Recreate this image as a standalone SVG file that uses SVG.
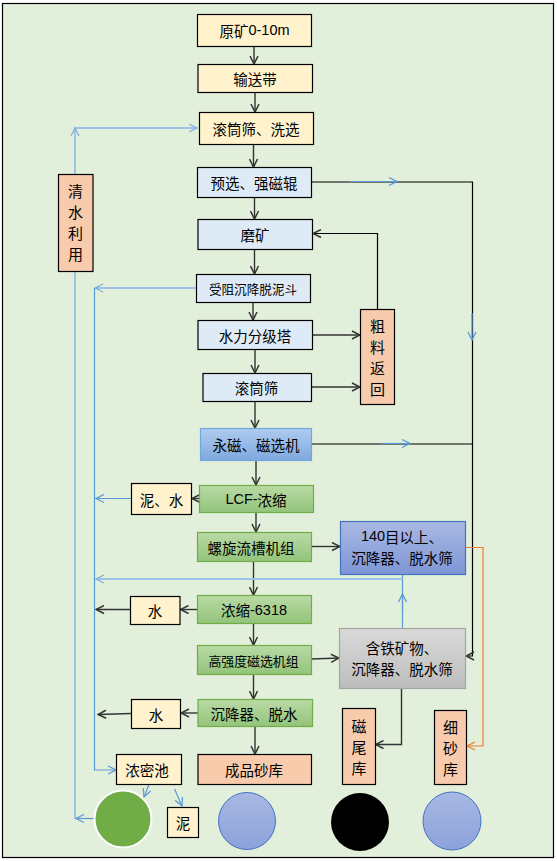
<svg xmlns="http://www.w3.org/2000/svg" width="557" height="861" viewBox="0 0 557 861">
<defs>
<style>
.t{font-family:"Noto Sans CJK SC","Liberation Sans",sans-serif;font-size:14.5px;fill:#000;text-anchor:middle;dominant-baseline:central}
.s{font-size:12.8px}
.y{fill:#FFF2CC;stroke:#000;stroke-width:1.2}
.b{fill:#DEEBF7;stroke:#000;stroke-width:1.2}
.o{fill:#F8CBAD;stroke:#000;stroke-width:1.2}
.g{fill:url(#gg);stroke:#70AD47;stroke-width:1.2}
.k{fill:none;stroke:#333;stroke-width:1.4}
.kb{fill:none;stroke:#000;stroke-width:1.2}
.bl{fill:none;stroke:#5B9BD5;stroke-width:1.2}
.lb{fill:none;stroke:#9DC3E6;stroke-width:2}
.or{fill:none;stroke:#ED7D31;stroke-width:1.2}
</style>
<linearGradient id="gg" x1="0" y1="0" x2="0" y2="1"><stop offset="0" stop-color="#B9DAA5"/><stop offset="1" stop-color="#93C47B"/></linearGradient>
<linearGradient id="gb" x1="0" y1="0" x2="0" y2="1"><stop offset="0" stop-color="#AECBEF"/><stop offset="1" stop-color="#7FA9E0"/></linearGradient>
<linearGradient id="gp" x1="0" y1="0" x2="0" y2="1"><stop offset="0" stop-color="#AAB9E3"/><stop offset="1" stop-color="#7E96D6"/></linearGradient>
<linearGradient id="gs" x1="0" y1="0" x2="0" y2="1"><stop offset="0" stop-color="#D9D9D9"/><stop offset="1" stop-color="#BDBDBD"/></linearGradient>
<linearGradient id="gc" x1="0" y1="0" x2="0" y2="1"><stop offset="0" stop-color="#A9B8E3"/><stop offset="1" stop-color="#8BA2DA"/></linearGradient>
<marker id="ak" viewBox="0 0 10 10" refX="9" refY="5" markerWidth="10" markerHeight="10" markerUnits="userSpaceOnUse" orient="auto"><path d="M1,1 L9,5 L1,9" fill="none" stroke="#333" stroke-width="1.5"/></marker>
<marker id="ab" viewBox="0 0 10 10" refX="9" refY="5" markerWidth="10" markerHeight="10" markerUnits="userSpaceOnUse" orient="auto"><path d="M1,1 L9,5 L1,9" fill="none" stroke="#5B9BD5" stroke-width="1.3"/></marker>
<marker id="al" viewBox="0 0 10 10" refX="9" refY="5" markerWidth="10" markerHeight="10" markerUnits="userSpaceOnUse" orient="auto"><path d="M1,1 L9,5 L1,9" fill="none" stroke="#7FB0E0" stroke-width="1.3"/></marker>
<marker id="ao" viewBox="0 0 10 10" refX="9" refY="5" markerWidth="10" markerHeight="10" markerUnits="userSpaceOnUse" orient="auto"><path d="M1,1 L9,5 L1,9" fill="none" stroke="#ED7D31" stroke-width="1.3"/></marker>
</defs>
<rect x="2.5" y="3.5" width="551" height="854" fill="#E2EFDA" stroke="#000" stroke-width="1.2"/>

<g id="connectors">
<!-- main vertical flow -->
<line class="k" x1="254" y1="46.5" x2="254" y2="64" marker-end="url(#ak)"/>
<line class="k" x1="255" y1="92.5" x2="255" y2="112" marker-end="url(#ak)"/>
<line class="k" x1="253.5" y1="144.5" x2="253.5" y2="167" marker-end="url(#ak)"/>
<line class="k" x1="254.5" y1="197.5" x2="254.5" y2="219" marker-end="url(#ak)"/>
<line class="k" x1="254.5" y1="249.5" x2="254.5" y2="274" marker-end="url(#ak)"/>
<line class="k" x1="253" y1="302.5" x2="253" y2="320" marker-end="url(#ak)"/>
<line class="k" x1="255" y1="349.5" x2="255" y2="373" marker-end="url(#ak)"/>
<line class="k" x1="255" y1="401.5" x2="255" y2="428" marker-end="url(#ak)"/>
<line class="k" x1="256" y1="460.5" x2="256" y2="485" marker-end="url(#ak)"/>
<line class="k" x1="256" y1="512.5" x2="256" y2="532" marker-end="url(#ak)"/>
<line class="k" x1="253.5" y1="561.5" x2="253.5" y2="595" marker-end="url(#ak)"/>
<line class="k" x1="253.5" y1="623.5" x2="253.5" y2="645" marker-end="url(#ak)"/>
<line class="k" x1="253.5" y1="674.5" x2="253.5" y2="699" marker-end="url(#ak)"/>
<line class="k" x1="255" y1="726.5" x2="255" y2="754" marker-end="url(#ak)"/>
<!-- to 粗料返回 -->
<line class="k" x1="312.5" y1="335" x2="360" y2="335" marker-end="url(#ak)"/>
<line class="k" x1="311.5" y1="387" x2="360" y2="387" marker-end="url(#ak)"/>
<path class="kb" d="M377.5,309 V233.5 H313" marker-end="url(#ak)"/>
<!-- right side -->
<path class="kb" d="M311.5,182 H472.5 V656 H466" marker-end="url(#ak)"/>
<line class="bl" x1="350" y1="181.5" x2="397" y2="181.5" marker-end="url(#ab)"/>
<line class="bl" x1="472" y1="313" x2="472" y2="340" marker-end="url(#ab)"/>
<line class="kb" x1="311.5" y1="444" x2="472.5" y2="444"/>
<line class="bl" x1="382" y1="443.5" x2="410" y2="443.5" marker-end="url(#ab)"/>
<line class="k" x1="311.5" y1="546.5" x2="340" y2="546.5" marker-end="url(#ak)"/>
<line class="k" x1="311.5" y1="659" x2="339" y2="658" marker-end="url(#ak)"/>
<path class="k" d="M401.5,688.5 V744.5 H375.5" marker-end="url(#ak)"/>
<path class="or" d="M465.5,547.5 H483 V746 H467" marker-end="url(#ao)"/>
<!-- blue from 含铁 up, to left -->
<line class="bl" x1="402.5" y1="628" x2="402.5" y2="574.5"/>
<line class="bl" x1="402.5" y1="612" x2="402.5" y2="594" marker-end="url(#ab)"/>
<line class="lb" x1="402.5" y1="579" x2="96" y2="579" marker-end="url(#al)"/>
<!-- 清水利用 loop -->
<path class="lb" d="M75,174 V128 H197" marker-end="url(#al)"/>
<line class="lb" x1="75" y1="150" x2="75" y2="128" marker-end="url(#al)"/>
<path class="lb" d="M75,271.5 V819"/>
<line class="bl" x1="94" y1="818.5" x2="76" y2="818.5" marker-end="url(#ab)"/>
<!-- inner return line -->
<line class="lb" x1="196" y1="288" x2="95" y2="288" marker-end="url(#al)"/>
<path class="bl" d="M94.5,288 V770 H116" marker-end="url(#ab)"/>
<line class="bl" x1="131" y1="498.5" x2="96" y2="498.5" marker-end="url(#ab)"/>
<line class="k" x1="199" y1="498.5" x2="192" y2="498.5" marker-end="url(#ak)"/>
<line class="k" x1="197.5" y1="609.5" x2="180.5" y2="609.5" marker-end="url(#ak)"/>
<line class="k" x1="130" y1="609.5" x2="96" y2="609.5" marker-end="url(#ak)"/>
<line class="k" x1="198" y1="713" x2="181" y2="713" marker-end="url(#ak)"/>
<line class="k" x1="131" y1="713.5" x2="98" y2="714.5" marker-end="url(#ak)"/>
<!-- 浓密池 outputs -->
<line class="bl" x1="149" y1="784.5" x2="144" y2="797" marker-end="url(#ab)"/>
<line class="bl" x1="174.5" y1="789" x2="182" y2="806" marker-end="url(#ab)"/>
</g>

<g id="n-yuankuang"><rect class="y" x="197.5" y="14.5" width="114" height="32"/><text class="t" x="254.5" y="30">原矿<tspan font-family="Liberation Sans">0-10m</tspan></text></g>
<g id="n-shusongdai"><rect class="y" x="198" y="64.5" width="114.5" height="28"/><text class="t" x="255" y="78.5">输送带</text></g>
<g id="n-gunxi"><rect class="y" x="199.5" y="112.5" width="114" height="32"/><text class="t" x="256" y="128.5">滚筒筛、洗选</text></g>
<g id="n-yuxuan"><rect class="b" x="197.5" y="167.5" width="114" height="30"/><text class="t" x="254" y="182.5">预选、强磁辊</text></g>
<g id="n-moku"><rect class="b" x="198" y="219.5" width="114.5" height="30"/><text class="t" x="255" y="234.5">磨矿</text></g>
<g id="n-shouzu"><rect class="b" x="196.5" y="274.5" width="114" height="28"/><text class="t s" x="253" y="288.5" style="font-size:12.6px">受阻沉降脱泥斗</text></g>
<g id="n-shuili"><rect class="b" x="198" y="320.5" width="114.5" height="29"/><text class="t" x="255" y="335">水力分级塔</text></g>
<g id="n-gunshai"><rect class="b" x="203" y="373.5" width="108.5" height="28"/><text class="t" x="256.5" y="387.5">滚筒筛</text></g>
<g id="n-yongci"><rect x="200.5" y="428.5" width="111" height="32" fill="url(#gb)" stroke="#6FA8DC" stroke-width="1.2"/><text class="t" x="256" y="444.5">永磁、磁选机</text></g>
<g id="n-nishui"><rect class="y" x="131.5" y="483.5" width="60" height="31"/><text class="t" x="161.5" y="499">泥、水</text></g>
<g id="n-lcf"><rect class="g" x="199.5" y="485.5" width="114" height="27"/><text class="t" x="256" y="499" fill="#222"><tspan font-family="Liberation Sans">LCF-</tspan>浓缩</text></g>
<g id="n-luoxuan"><rect class="g" x="197.5" y="532.5" width="114" height="29"/><text class="t" x="251" y="547">螺旋流槽机组</text></g>
<g id="n-140"><rect x="340.5" y="521.5" width="125" height="53" fill="url(#gp)" stroke="#4472C4" stroke-width="1.2"/><text class="t" x="402" y="536"><tspan font-family="Liberation Sans">140</tspan>目以上、</text><text class="t" x="402" y="557">沉降器、脱水筛</text></g>
<g id="n-nongsuo"><rect class="g" x="197.5" y="595.5" width="114" height="28"/><text class="t" x="254" y="609.5">浓缩<tspan font-family="Liberation Sans">-6318</tspan></text></g>
<g id="n-shui1"><rect class="y" x="130.5" y="596.5" width="49.5" height="28"/><text class="t" x="155" y="610.5">水</text></g>
<g id="n-gaoqiang"><rect class="g" x="197.5" y="645.5" width="114" height="29"/><text class="t" x="253.5" y="660" style="font-size:12.9px">高强度磁选机组</text></g>
<g id="n-hantie"><rect x="339.5" y="628.5" width="126" height="60" fill="url(#gs)" stroke="#A5A5A5" stroke-width="1.2"/><text class="t" x="402" y="647">含铁矿物、</text><text class="t" x="402" y="668.5">沉降器、脱水筛</text></g>
<g id="n-chenjiang"><rect class="g" x="198" y="699.5" width="114.5" height="27"/><text class="t" x="254" y="713">沉降器、脱水</text></g>
<g id="n-shui2"><rect class="y" x="131.5" y="699.5" width="49" height="29"/><text class="t" x="156" y="714">水</text></g>
<g id="n-chengpin"><rect class="o" x="198" y="754.5" width="113.5" height="30"/><text class="t" x="254" y="769.5">成品砂库</text></g>
<g id="n-nongmi"><rect class="y" x="116.5" y="754.5" width="65" height="30"/><text class="t" x="147" y="769.5">浓密池</text></g>
<g id="n-ni"><rect class="y" x="167.5" y="807.5" width="31" height="30"/><text class="t" x="183" y="822.5">泥</text></g>
<g id="n-qingshui"><rect class="o" x="58.5" y="174.5" width="34.5" height="97"/><text class="t" x="75.5" y="190" style="font-size:15px">清</text><text class="t" x="75.5" y="211" style="font-size:15px">水</text><text class="t" x="75.5" y="232" style="font-size:15px">利</text><text class="t" x="75.5" y="253" style="font-size:15px">用</text></g>
<g id="n-culiao"><rect class="o" x="360.5" y="309.5" width="34" height="95"/><text class="t" x="377.5" y="325" style="font-size:15px">粗</text><text class="t" x="377.5" y="346" style="font-size:15px">料</text><text class="t" x="377.5" y="367" style="font-size:15px">返</text><text class="t" x="377.5" y="388" style="font-size:15px">回</text></g>
<g id="n-ciwei"><rect class="o" x="342.5" y="708.5" width="33" height="76"/><text class="t" x="359" y="725" style="font-size:15px">磁</text><text class="t" x="359" y="746" style="font-size:15px">尾</text><text class="t" x="359" y="767" style="font-size:15px">库</text></g>
<g id="n-xisha"><rect class="o" x="434.5" y="710.5" width="32" height="74"/><text class="t" x="450.5" y="726" style="font-size:15px">细</text><text class="t" x="450.5" y="747" style="font-size:15px">砂</text><text class="t" x="450.5" y="768" style="font-size:15px">库</text></g>
<g id="c-green"><circle cx="123" cy="819" r="28.5" fill="#70AD47" stroke="#fff" stroke-width="2"/></g>
<g id="c-blue1"><circle cx="247" cy="821" r="28.5" fill="url(#gc)" stroke="#4472C4" stroke-width="1"/></g>
<g id="c-black"><circle cx="360" cy="822" r="29" fill="#000"/></g>
<g id="c-blue2"><circle cx="452" cy="821" r="29" fill="url(#gc)" stroke="#4472C4" stroke-width="1"/></g>
</svg>
